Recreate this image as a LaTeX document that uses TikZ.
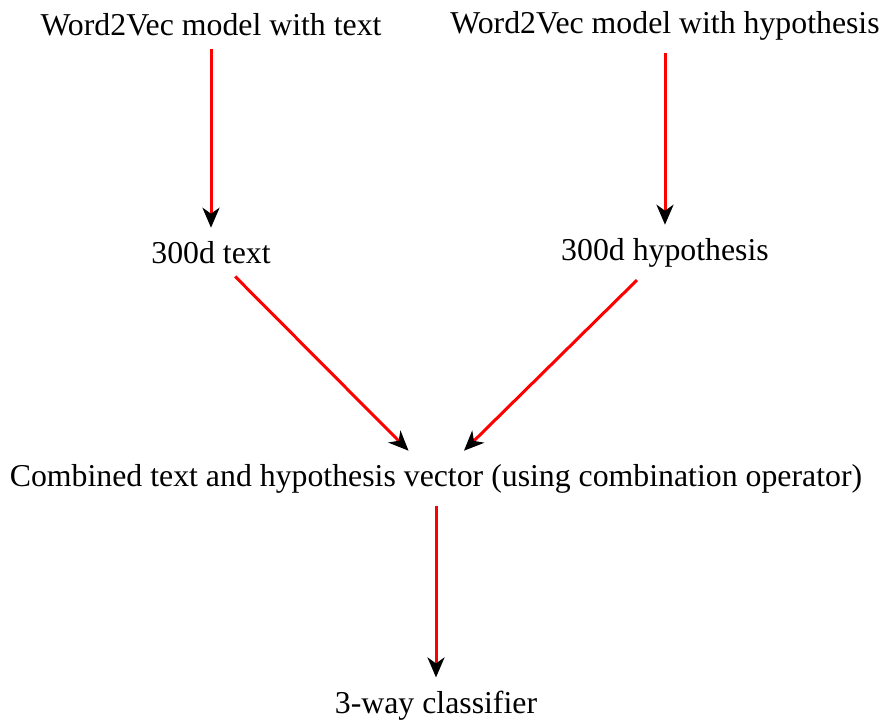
\documentclass[tikz,border=0pt]{standalone}
\usepackage{fontspec}
\setmainfont{Liberation Serif}
\usepackage{tikz}
\usetikzlibrary{arrows.meta}

\begin{document}
\begin{tikzpicture}[x=1pt, y=-1pt,
  every node/.style={font=\fontsize{31.8}{38}\selectfont, inner sep=13pt, anchor=base},
  flow/.style={draw=red, line width=3pt,
    -{Stealth[black, length=20pt, width=17pt, inset=6pt]}}]
  \useasboundingbox (0,0) rectangle (881,720);
  % inputs
  \node (txtmodel) at (211,35) {Word2Vec model with text};
  \node (hypmodel) at (665,33) {Word2Vec model with hypothesis};
  % vectors
  \node (txtvec) at (211,263) {300d text};
  \node (hypvec) at (665,260) {300d hypothesis};
  \node (comb) at (436,486) {Combined text and hypothesis vector (using combination operator)};
  \node (clf) at (436,713) {3-way classifier};
  \draw[flow] (txtmodel) -- (txtvec);
  \draw[flow] (hypmodel) -- (hypvec);
  \draw[flow] (txtvec) -- (comb);
  \draw[flow] (hypvec) -- (comb);
  \draw[flow] (comb) -- (clf);
\end{tikzpicture}
\end{document}
